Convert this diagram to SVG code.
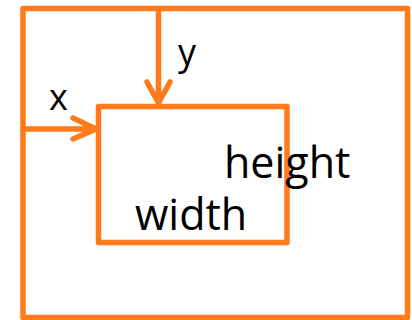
<svg xmlns="http://www.w3.org/2000/svg" width="412" height="320" viewBox="0 0 412 320">
<defs>
<style>
.box{fill:none;stroke:#ff7a1a;stroke-width:5.5;stroke-linejoin:round}
.line{fill:none;stroke:#ff7a1a;stroke-width:5.5;stroke-linecap:round;stroke-linejoin:round}
.lbl{font-family:"Open Sans","Noto Sans",sans-serif;fill:#000}
</style>
</defs>
<rect width="412" height="320" fill="#fff"/>
<g id="outer"><rect class="box" x="23" y="8.5" width="384.5" height="309"/></g>
<g id="inner"><rect class="box" x="98.5" y="106.5" width="188.5" height="136"/>
<text class="lbl" x="224" y="178" font-size="43">height</text>
<text class="lbl" x="135" y="230" font-size="43">width</text>
</g>
<g id="connectors">
<path class="line" d="M158.5 8.5 V103 M147 82 L158.5 103 L170 82"/>
<path class="line" d="M23 129 H96 M73 118 L96 129 L73 139"/>
<text class="lbl" x="178" y="65" font-size="36">y</text>
<text class="lbl" x="49" y="110" font-size="36">x</text>
</g>
</svg>
